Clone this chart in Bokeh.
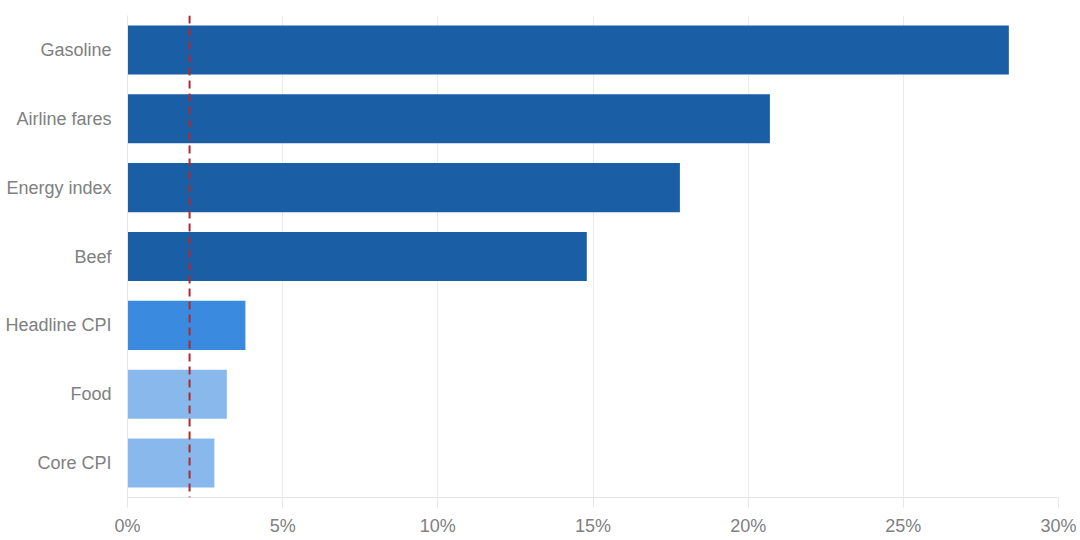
from bokeh.plotting import figure
from bokeh.models import ColumnDataSource, FixedTicker, PrintfTickFormatter, Span, FactorRange, Range1d
from bokeh.embed import file_html
from bokeh.resources import INLINE

categories = ["Gasoline", "Airline fares", "Energy index", "Beef", "Headline CPI", "Food", "Core CPI"]
values = [28.4, 20.7, 17.8, 14.8, 3.8, 3.2, 2.8]
target = 2.0
x_ticks = [0, 5, 10, 15, 20, 25, 30]

DARK = "#1a5fa6"
MID = "#3a8ae0"
LIGHT = "#88b8ec"
bar_colors = [DARK, DARK, DARK, DARK, MID, LIGHT, LIGHT]

src = ColumnDataSource(dict(cat=categories, val=values, color=bar_colors))

p = figure(width=1080, height=540, output_backend="svg", toolbar_location=None,
           y_range=FactorRange(factors=list(reversed(categories)), range_padding=0),
           x_range=Range1d(0, 30),
           min_border_left=127, min_border_right=22, min_border_top=15, min_border_bottom=43)

p.hbar(y="cat", right="val", left=0, height=0.713, color="color", source=src, line_color=None)

p.add_layout(Span(location=target, dimension="height", line_color="#ad2a2f",
                  line_width=2, line_dash="8 5"))

p.outline_line_color = None
p.ygrid.grid_line_color = None
p.xgrid.grid_line_color = "#ebebeb"
p.xgrid.ticker = FixedTicker(ticks=x_ticks)

xa = p.xaxis[0]
xa.ticker = FixedTicker(ticks=x_ticks)
xa.formatter = PrintfTickFormatter(format="%d%%")
xa.axis_line_color = "#e6e6e6"
xa.major_tick_line_color = "#e6e6e6"
xa.major_tick_out = 10
xa.major_tick_in = 0
xa.minor_tick_line_color = None
xa.major_label_text_font = "Liberation Sans"
xa.major_label_text_font_size = "18px"
xa.major_label_text_color = "#808080"
xa.major_label_standoff = 8

ya = p.yaxis[0]
ya.axis_line_color = "#e6e6e6"
ya.major_tick_line_color = None
ya.minor_tick_line_color = None
ya.major_label_text_font = "Liberation Sans"
ya.major_label_text_font_size = "18px"
ya.major_label_text_color = "#808080"
ya.major_label_standoff = 10

open("out.html", "w").write(file_html(p, INLINE))
